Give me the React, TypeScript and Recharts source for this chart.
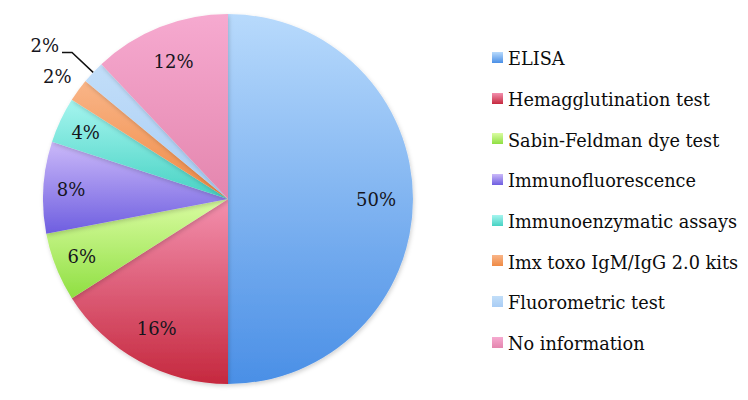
import React from 'react';
import { Cell, Legend, Pie, PieChart } from 'recharts';

const categories = [
  'ELISA',
  'Hemagglutination test',
  'Sabin-Feldman dye test',
  'Immunofluorescence',
  'Immunoenzymatic assays',
  'Imx toxo IgM/IgG 2.0 kits',
  'Fluorometric test',
  'No information',
];

const shares = [50, 16, 6, 8, 4, 2, 2, 12];

// gradient stops, light at top, dark at bottom
const topColors = ['#b8dafc', '#f390ae', '#dafca2', '#cbb9f9', '#a6f5ef', '#f9b588', '#c2def9', '#f6aad0'];
const bottomColors = ['#4a8fe6', '#c5283e', '#8fdf42', '#6e5ee0', '#46d2c3', '#ef8a44', '#a9cdf4', '#e486ae'];

const FONT = '"DejaVu Serif", Cambria, serif';
const RAD = Math.PI / 180;

const data = categories.map((name, i) => ({ name, value: shares[i] }));

const renderLabel = (props: any) => {
  const { cx, cy, midAngle, outerRadius, value, index } = props;
  const cos = Math.cos(-midAngle * RAD);
  const sin = Math.sin(-midAngle * RAD);
  const textStyle = { fontFamily: FONT, fontSize: 18, fill: '#15151c' };

  if (value <= 2) {
    // small slices sit outside; the second one gets a leader line
    if (index === 6) {
      const sx = cx + outerRadius * cos;
      const sy = cy + outerRadius * sin;
      const ex = cx + (outerRadius + 29) * cos;
      const ey = cy + (outerRadius + 29) * sin;
      return (
        <g>
          <path d={`M${sx},${sy}L${ex},${ey}L${ex - 10},${ey}`} stroke="#111" strokeWidth={1.5} fill="none" />
          <text x={ex - 13} y={ey - 7} textAnchor="end" dominantBaseline="central" style={textStyle}>
            {`${value}%`}
          </text>
        </g>
      );
    }
    const r = outerRadius + 26;
    return (
      <text x={cx + r * cos} y={cy + r * sin + 2} textAnchor="middle" dominantBaseline="central" style={textStyle}>
        {`${value}%`}
      </text>
    );
  }

  const r = outerRadius * (value >= 12 ? 0.8 : 0.85);
  return (
    <text x={cx + r * cos} y={cy + r * sin} textAnchor="middle" dominantBaseline="central" style={textStyle}>
      {`${value}%`}
    </text>
  );
};

const renderLegend = () => (
  <div style={{ fontFamily: FONT, fontSize: 17.7, color: '#0c0c0c' }}>
    {categories.map((name, i) => (
      <div key={name} style={{ display: 'flex', alignItems: 'center', height: 40.7, whiteSpace: 'nowrap' }}>
        <svg width={11} height={11} style={{ marginRight: 5, marginTop: -4 }}>
          <rect width={11} height={11} fill={`url(#grad-${i})`} />
        </svg>
        <span>{name}</span>
      </div>
    ))}
  </div>
);

export default function App() {
  return (
    <div style={{ position: 'absolute', left: 0, top: 0, background: '#fff' }}>
      <svg width={0} height={0} style={{ position: 'absolute' }}>
        <defs>
          {categories.map((_, i) => (
            <linearGradient key={i} id={`grad-${i}`} x1="0" y1="0" x2="0" y2="1">
              <stop offset="0%" stopColor={topColors[i]} />
              <stop offset="100%" stopColor={bottomColors[i]} />
            </linearGradient>
          ))}
          <filter id="pie-shadow" x="-10%" y="-10%" width="120%" height="120%">
            <feDropShadow dx="1" dy="2" stdDeviation="2" floodColor="#000" floodOpacity="0.18" />
          </filter>
        </defs>
      </svg>
      <PieChart width={748} height={400} margin={{ top: 0, right: 0, bottom: 0, left: 0 }}>
        <Pie
          data={data}
          dataKey="value"
          nameKey="name"
          cx={228}
          cy={199}
          outerRadius={185}
          startAngle={90}
          endAngle={-270}
          stroke="none"
          label={renderLabel}
          labelLine={false}
          isAnimationActive={false}
          style={{ filter: 'url(#pie-shadow)' }}
        >
          {data.map((entry, i) => (
            <Cell key={entry.name} fill={`url(#grad-${i})`} />
          ))}
        </Pie>
        <Legend
          layout="vertical"
          content={renderLegend}
          wrapperStyle={{ left: 492, top: 39, width: 256 }}
        />
      </PieChart>
    </div>
  );
}
